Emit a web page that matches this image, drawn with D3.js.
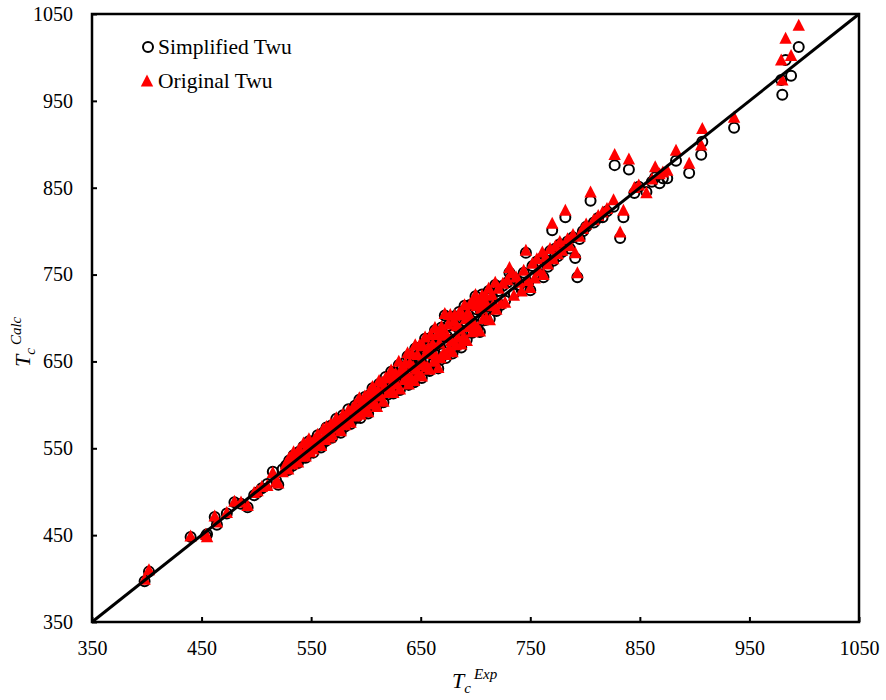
<!DOCTYPE html>
<html>
<head>
<meta charset="utf-8">
<script src="https://cdn.jsdelivr.net/npm/d3@7"></script>
<style>
  html, body { margin: 0; background: #fff; }
  svg { display: block; }
</style>
</head>
<body>
<svg id="chart" width="886" height="700"></svg>
<script>
// Experimental critical temperature (x) and the two correlations' predictions (y)
const tcExp = [
  398, 402, 440, 454, 455, 462, 464, 473, 480, 486,
  492, 498, 501, 505, 510, 515, 518, 520, 524, 527,
  528, 529, 530, 532, 533, 534, 535, 537, 538, 539,
  540, 542, 543, 544, 545, 547, 548, 549, 550, 552,
  553, 554, 556, 557, 558, 559, 561, 562, 563, 564,
  566, 567, 568, 569, 571, 572, 573, 574, 576, 577,
  578, 579, 581, 582, 583, 584, 586, 587, 588, 589,
  590, 591, 592, 594, 595, 596, 597, 599, 600, 601,
  602, 603, 605, 606, 607, 608, 610, 611, 612, 613,
  615, 616, 617, 618, 620, 621, 622, 623, 625, 626,
  627, 628, 630, 631, 632, 633, 635, 636, 637, 638,
  639, 640,
  641, 642, 643, 644, 645, 646, 647, 648, 649, 650,
  651, 652, 653, 654, 655, 656, 657, 658, 659, 660,
  661, 662, 663, 664, 665, 666, 667, 668, 669, 670,
  671, 672, 673, 674, 675, 676, 677, 678, 679, 680,
  681, 682, 683, 684, 685, 686, 687, 688, 689, 690,
  691, 692, 693, 694, 695, 696, 697, 698, 699, 700,
  701, 702, 703, 704, 705, 706, 707, 708, 709, 710,
  711, 712, 713, 715, 716, 718, 719,
  721, 723, 725, 727, 729, 731, 733, 735, 737, 740,
  742, 744, 746, 748, 750, 752, 754, 756, 758, 761,
  762, 764, 766, 768, 770, 771, 773, 775, 777, 779,
  782, 784, 786, 789, 791, 793, 795, 798, 801, 805,
  808, 812, 816, 820, 826, 827, 832, 835, 840, 845,
  849, 856, 861, 864, 868, 871, 875, 883, 895, 906,
  907, 936, 979, 980, 983, 988, 995
];

const tcSimplified = [
  397, 408, 448, 449, 451, 471, 462, 475, 488, 486,
  482, 496, 499, 504, 509, 523, 513, 508, 526, 530,
  531, 525, 536, 533, 530, 542, 534, 541, 533, 546,
  542, 539, 552, 544, 539, 552, 558, 547, 553, 545,
  559, 555, 565, 553, 562, 551, 568, 563, 558, 574,
  569, 564, 576, 562, 576, 572, 584, 570, 582, 568,
  580, 588, 575, 586, 581, 595, 578, 590, 595, 585,
  599, 585, 594, 606, 585, 601, 595, 609, 592, 605,
  590, 611, 606, 619, 600, 614, 599, 614, 624, 609,
  624, 603, 618, 632, 612, 627, 619, 638, 613, 630,
  637, 622, 646, 617, 634, 642, 626, 649, 634, 656,
  623, 646,
  630, 656, 645, 626, 665, 640, 656, 634, 666, 650,
  631, 664, 645, 676, 659, 641, 667, 639, 677, 658,
  668, 649, 686, 657, 679, 642, 670, 652, 689, 679,
  661, 703, 654, 679, 691, 664, 701, 675, 659, 692,
  702, 667, 690, 675, 707, 685, 666, 703, 676, 714,
  696, 675, 704, 686, 715, 697, 683, 716, 693, 725,
  710, 687, 717, 684, 708, 727, 697, 716, 725, 698,
  713, 731, 699, 725, 711, 738, 708,
  731, 715, 737, 720, 741, 752, 748, 728, 745, 738,
  733, 752, 775, 740, 732, 760, 748, 765, 751, 769,
  747, 772, 759, 777, 801, 766, 780, 771, 785, 776,
  816, 788, 780, 793, 769, 747, 791, 800, 805, 835,
  810, 815, 816, 823, 828, 876, 792, 816, 871, 844,
  851, 845, 857, 862, 855, 861, 861, 881, 867, 888,
  903, 919, 974, 957, 997, 979, 1012
];

const tcOriginal = [
  399, 410, 449, 451, 448, 472, 465, 476, 489, 488,
  484, 499, 501, 506, 507, 522, 512, 510, 523, 532,
  533, 526, 539, 532, 532, 546, 535, 543, 534, 549,
  541, 541, 556, 545, 541, 553, 561, 546, 555, 549,
  560, 557, 566, 556, 561, 553, 572, 564, 560, 575,
  572, 563, 578, 566, 577, 574, 585, 573, 581, 570,
  584, 589, 577, 587, 584, 594, 580, 594, 596, 587,
  600, 588, 593, 608, 589, 602, 597, 610, 595, 604,
  592, 615, 607, 621, 601, 617, 598, 616, 628, 610,
  626, 604, 621, 631, 614, 631, 620, 640, 614, 633,
  636, 624, 650, 618, 636, 643, 629, 648, 636, 660,
  624, 648,
  631, 659, 644, 628, 669, 641, 658, 635, 669, 649,
  633, 668, 646, 678, 660, 644, 666, 641, 681, 659,
  670, 650, 689, 656, 681, 643, 671, 654, 690, 682,
  660, 705, 658, 680, 693, 665, 704, 674, 661, 696,
  703, 669, 691, 678, 706, 687, 670, 704, 678, 715,
  699, 674, 706, 690, 716, 699, 684, 719, 692, 727,
  714, 688, 719, 685, 711, 726, 699, 720, 726, 700,
  714, 734, 698, 727, 715, 741, 710,
  734, 717, 740, 718, 744, 758, 752, 726, 747, 741,
  731, 755, 778, 743, 735, 763, 746, 768, 754, 776,
  750, 770, 762, 780, 809, 768, 783, 774, 788, 778,
  824, 791, 783, 796, 775, 752, 794, 803, 808, 845,
  813, 818, 822, 826, 836, 888, 799, 824, 883, 850,
  853, 844, 860, 874, 866, 868, 870, 893, 878, 899,
  918, 931, 997, 974, 1022, 1002, 1037
];

const axisTicks = [350, 450, 550, 650, 750, 850, 950, 1050];
const seriesNames = ["Simplified Twu", "Original Twu"];
const seriesColors = ["#000000", "#ff0000"];

const svg = d3.select("#chart");
const plot = { left: 92, right: 859, top: 14, bottom: 622 };
const serif = "'Liberation Serif', 'Times New Roman', serif";

const x = d3.scaleLinear().domain([350, 1050]).range([plot.left, plot.right]);
const y = d3.scaleLinear().domain([350, 1050]).range([plot.bottom, plot.top]);

const points = tcExp.map((v, i) => ({ exp: v, simp: tcSimplified[i], orig: tcOriginal[i] }));

const triPath = "M0,-6.6L6.2,5.4L-6.2,5.4Z";

// Simplified Twu: open circles
svg.append("g")
  .selectAll("circle")
  .data(points)
  .join("circle")
  .attr("cx", d => x(d.exp))
  .attr("cy", d => y(d.simp))
  .attr("r", 5)
  .attr("fill", "none")
  .attr("stroke", seriesColors[0])
  .attr("stroke-width", 2);

// Original Twu: filled triangles
svg.append("g")
  .selectAll("path")
  .data(points)
  .join("path")
  .attr("d", triPath)
  .attr("transform", d => `translate(${x(d.exp)},${y(d.orig)})`)
  .attr("fill", seriesColors[1]);

// Parity line y = x
svg.append("line")
  .attr("x1", x(350)).attr("y1", y(350))
  .attr("x2", x(1050)).attr("y2", y(1050))
  .attr("stroke", "#000")
  .attr("stroke-width", 3);

// Axes with inward ticks
const xAxis = d3.axisBottom(x).tickValues(axisTicks).tickSize(-5).tickPadding(19).tickFormat(d3.format("d"));
const yAxis = d3.axisLeft(y).tickValues(axisTicks).tickSize(-5).tickPadding(19).tickFormat(d3.format("d"));

const gx = svg.append("g").attr("transform", `translate(0,${plot.bottom})`).call(xAxis);
const gy = svg.append("g").attr("transform", `translate(${plot.left},0)`).call(yAxis);

[gx, gy].forEach(g => {
  g.select(".domain").remove();
  g.selectAll(".tick line").attr("stroke", "#000").attr("stroke-width", 2);
  g.selectAll(".tick text")
    .attr("fill", "#000")
    .style("font-family", serif)
    .style("font-size", "20px");
});

// Plot frame
svg.append("rect")
  .attr("x", plot.left).attr("y", plot.top)
  .attr("width", plot.right - plot.left)
  .attr("height", plot.bottom - plot.top)
  .attr("fill", "none")
  .attr("stroke", "#000")
  .attr("stroke-width", 2.5);

// Legend
const legend = svg.append("g").style("font-family", serif).style("font-size", "21.5px");
legend.append("circle")
  .attr("cx", 148).attr("cy", 47).attr("r", 5)
  .attr("fill", "none").attr("stroke", seriesColors[0]).attr("stroke-width", 2);
legend.append("text").attr("x", 158).attr("y", 54).attr("fill", "#000").text(seriesNames[0]);
legend.append("path")
  .attr("d", triPath)
  .attr("transform", "translate(147,81)")
  .attr("fill", seriesColors[1]);
legend.append("text").attr("x", 158).attr("y", 88).attr("fill", "#000").text(seriesNames[1]);

// Axis titles: T_c^Exp and T_c^Calc
const xTitle = svg.append("text")
  .attr("x", 452).attr("y", 688)
  .style("font-family", serif).style("font-style", "italic").style("font-size", "22px")
  .attr("fill", "#000");
xTitle.append("tspan").text("T");
xTitle.append("tspan").attr("dy", 5).style("font-size", "15px").text("c");
xTitle.append("tspan").attr("dx", 3).attr("dy", -14).style("font-size", "15px").text("Exp");

const yTitle = svg.append("text")
  .attr("transform", "translate(30,367) rotate(-90)")
  .style("font-family", serif).style("font-style", "italic").style("font-size", "22px")
  .attr("fill", "#000");
yTitle.append("tspan").text("T");
yTitle.append("tspan").attr("dy", 5).style("font-size", "15px").text("c");
yTitle.append("tspan").attr("dx", 3).attr("dy", -14).style("font-size", "15px").text("Calc");
</script>
</body>
</html>
